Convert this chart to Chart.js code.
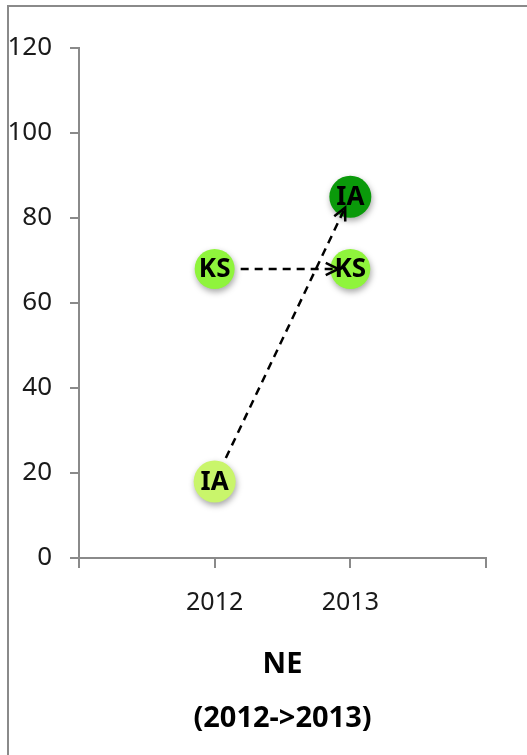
<!DOCTYPE html>
<html>
<head>
<meta charset="utf-8">
<script src="https://cdn.jsdelivr.net/npm/chart.js@4.4.0/dist/chart.umd.min.js"></script>
<style>
  html, body { margin: 0; padding: 0; background: #fff; overflow: hidden; }
  #frame { position: absolute; left: 7px; top: 5px; width: 600px; height: 800px;
           border-left: 2px solid #8a8a8a; border-top: 2px solid #8a8a8a; }
  #moveChart { position: absolute; left: 0; top: 0; }
</style>
</head>
<body>
<div id="frame"></div>
<canvas id="moveChart" width="527" height="755"></canvas>
<script>
// years on the x axis, one value per state and year
var years = [2012, 2013];
var states = ['IA', 'KS'];
var valuesIA = [18, 85];
var valuesKS = [68, 68];
var coloursIA = ['#c9f56b', '#0a9a0a'];
var coloursKS = ['#8ff43c', '#8ff43c'];
var yTicks = [0, 20, 40, 60, 80, 100, 120];
var titleLines = ['NE', '(2012->2013)'];

var fontFam = '"Noto Sans", "Open Sans", sans-serif';
var axisGrey = '#8a8a8a';

function toPoints(vals) {
    return years.map(function (yr, i) { return { x: yr, y: vals[i] }; });
}

// circle labels, arrows from first year to second, soft shadow under circles
const movePlugin = {
    id: 'movePlugin',
    beforeDatasetsDraw(chart) {
        const ctx = chart.ctx;
        ctx.save();
        ctx.shadowColor = 'rgba(0,0,0,0.35)';
        ctx.shadowBlur = 6;
        ctx.shadowOffsetX = 1;
        ctx.shadowOffsetY = 3;
    },
    afterDatasetsDraw(chart) {
        const ctx = chart.ctx;
        ctx.restore();

        // labels inside the circles
        ctx.save();
        ctx.font = 'bold 26px ' + fontFam;
        ctx.fillStyle = '#000';
        ctx.textAlign = 'center';
        ctx.textBaseline = 'middle';
        chart.data.datasets.forEach(function (ds, di) {
            chart.getDatasetMeta(di).data.forEach(function (pt) {
                ctx.fillText(ds.label, pt.x, pt.y + 1);
            });
        });
        ctx.restore();

        // dashed arrows
        const xs = chart.scales.x, ys = chart.scales.y;
        ctx.save();
        ctx.strokeStyle = '#000';
        ctx.lineWidth = 2.5;
        chart.data.datasets.forEach(function (ds) {
            const a = ds.data[0], b = ds.data[1];
            const x0 = xs.getPixelForValue(a.x), y0 = ys.getPixelForValue(a.y);
            const x1 = xs.getPixelForValue(b.x), y1 = ys.getPixelForValue(b.y);
            const len = Math.hypot(x1 - x0, y1 - y0);
            const ux = (x1 - x0) / len, uy = (y1 - y0) / len;
            const sx = x0 + ux * 26, sy = y0 + uy * 26;
            const ex = x1 - ux * 12, ey = y1 - uy * 12;
            ctx.setLineDash([8, 6]);
            ctx.beginPath();
            ctx.moveTo(sx, sy);
            ctx.lineTo(ex, ey);
            ctx.stroke();
            // head
            ctx.setLineDash([]);
            const ang = Math.atan2(uy, ux);
            ctx.beginPath();
            ctx.moveTo(ex - 14 * Math.cos(ang - 0.45), ey - 14 * Math.sin(ang - 0.45));
            ctx.lineTo(ex, ey);
            ctx.lineTo(ex - 14 * Math.cos(ang + 0.45), ey - 14 * Math.sin(ang + 0.45));
            ctx.stroke();
        });
        ctx.restore();
    }
};

const moveCtx = document.getElementById('moveChart').getContext('2d');
const moveChart = new Chart(moveCtx, {
    type: 'scatter',
    data: {
        datasets: [{
            label: states[0],
            data: toPoints(valuesIA),
            pointBackgroundColor: coloursIA,
            pointBorderWidth: 0,
            pointRadius: 21
        }, {
            label: states[1],
            data: toPoints(valuesKS),
            pointBackgroundColor: coloursKS,
            pointBorderWidth: 0,
            pointRadius: 20
        }]
    },
    options: {
        responsive: false,
        animation: false,
        devicePixelRatio: 1,
        layout: { padding: { left: 0, right: 41, top: 48, bottom: 0 } },
        plugins: {
            legend: { display: false },
            tooltip: { enabled: false },
            title: {
                display: true,
                position: 'bottom',
                fullSize: false,
                text: titleLines,
                color: '#000',
                font: { family: fontFam, size: 29, weight: 'bold', lineHeight: 54 / 29 },
                padding: { top: 0, bottom: 9 }
            }
        },
        scales: {
            x: {
                type: 'linear',
                min: years[0] - 1,
                max: years[years.length - 1] + 1,
                afterFit: function (scale) { scale.height = 80; },
                ticks: {
                    stepSize: 1,
                    padding: 20,
                    color: '#1a1a1a',
                    font: { family: fontFam, size: 25 },
                    callback: function (v) { return years.indexOf(v) >= 0 ? String(v) : ''; }
                },
                grid: { drawOnChartArea: false, tickLength: 10, color: axisGrey, lineWidth: 2 },
                border: { color: axisGrey, width: 2 }
            },
            y: {
                min: yTicks[0],
                max: yTicks[yTicks.length - 1],
                afterFit: function (scale) { scale.width = 79; },
                afterBuildTicks: function (scale) {
                    scale.ticks = yTicks.map(function (v) { return { value: v }; });
                },
                ticks: {
                    padding: 18,
                    color: '#1a1a1a',
                    font: { family: fontFam, size: 26 }
                },
                grid: { drawOnChartArea: false, tickLength: 9, color: axisGrey, lineWidth: 2 },
                border: { color: axisGrey, width: 2 }
            }
        }
    },
    plugins: [movePlugin]
});
</script>
</body>
</html>
